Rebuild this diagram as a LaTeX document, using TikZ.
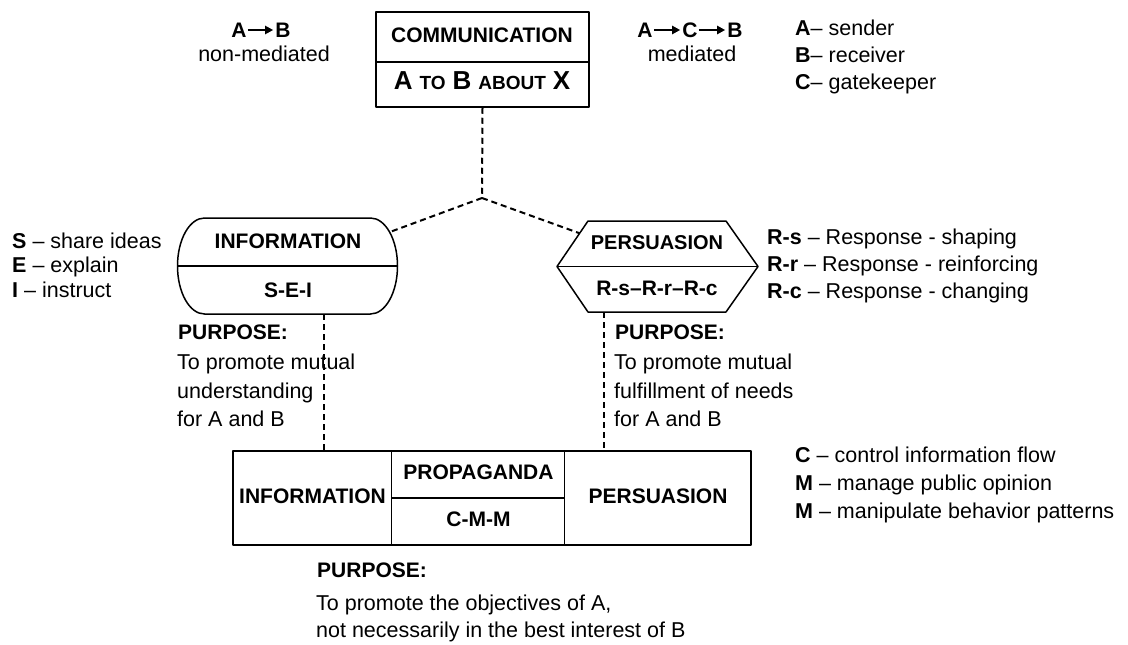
\documentclass[tikz,border=0pt]{standalone}
\usepackage{fontspec}
\setmainfont{Liberation Sans}
\usetikzlibrary{calc,arrows.meta}
\newcommand\capbig[1]{{\fontsize{26}{28}\selectfont #1}}
\newcommand\capsm[1]{{\fontsize{19}{20}\selectfont #1}}
\begin{document}
\begin{tikzpicture}[x=1pt,y=-1pt,
  every node/.style={font=\fontsize{21.5}{24}\selectfont, inner sep=0pt, text height=15pt, text depth=4.5pt},
  box/.style={draw, line width=1.5pt, line join=round},
  conn/.style={draw, line width=2pt, dash pattern=on 6pt off 4pt},
  flow/.style={draw, line width=2pt, -{Triangle[length=8pt,width=8pt]}, shorten <=1pt, shorten >=2pt},
  lbl/.style={font=\fontsize{21}{24}\selectfont\bfseries},
  txt/.style={anchor=west}]
\useasboundingbox (0,0) rectangle (1128,645);

% top box
\node[box, minimum width=213pt, minimum height=95pt] (comm) at (482.5,59.5) {};
\draw[box] ([yshift=-2.5pt]comm.west) -- ([yshift=-2.5pt]comm.east);
\node[lbl] (commT) at (482,37) {COMMUNICATION};
\node[lbl] (abx) at (482,84) {\capbig{A}\hspace{7pt}\capsm{TO}\hspace{7pt}\capbig{B}\hspace{7pt}\capsm{ABOUT}\hspace{7pt}\capbig{X}};

% top texts: A -> B
\node[lbl] (nA1) at (239,32) {A};
\node[lbl] (nB1) at (283,32) {B};
\draw[flow] ([yshift=2pt]nA1.east) -- ([yshift=2pt]nB1.west);
\node (nonmed) at (264,56) {non-mediated};
% A -> C -> B
\node[lbl] (nA2) at (645,32) {A};
\node[lbl] (nC2) at (690,32) {C};
\node[lbl] (nB2) at (735,32) {B};
\draw[flow] ([yshift=2pt]nA2.east) -- ([yshift=2pt]nC2.west);
\draw[flow] ([yshift=2pt]nC2.east) -- ([yshift=2pt]nB2.west);
\node (med) at (692,56) {mediated};
\node[txt] (lgA) at (795,30) {\textbf{A}– sender};
\node[txt] (lgB) at (795,57) {\textbf{B}– receiver};
\node[txt] (lgC) at (795,84) {\textbf{C}– gatekeeper};

% information capsule
\coordinate (infoRC) at (370.5,266);
\coordinate (infoLC) at (204.5,266);
\draw[box] (204.5,218) -- (370.5,218) arc[start angle=-90, end angle=90, x radius=27, y radius=48]
  -- (204.5,314) arc[start angle=90, end angle=270, x radius=27, y radius=48] -- cycle;
\coordinate (infoW) at (177.5,266);
\coordinate (infoE) at (397.5,266);
\draw[box] (infoW) -- (infoE);
\coordinate (infoNE) at ($(infoRC)+(19.1,-33.9)$);
\coordinate (infoS) at (324,314);
\node[lbl] (infoT) at (288,243) {INFORMATION};
\node[lbl] (sei) at (288,292) {S-E-I};

% persuasion hexagon
\coordinate (hTL) at (588,221);
\coordinate (hTR) at (726,221);
\coordinate (hR) at (758,266.5);
\coordinate (hBR) at (726,312);
\coordinate (hBL) at (588,312);
\coordinate (hL) at (557,266.5);
\draw[box] (hTL) -- (hTR) -- (hR) -- (hBR) -- (hBL) -- (hL) -- cycle;
\draw[box] (hL) -- (hR);
\coordinate (persNW) at ($(hTL)!0.27!(hL)$);
\coordinate (persS) at (604,312);
\node[lbl, font=\fontsize{20}{24}\selectfont\bfseries] (persT) at (657,244) {PERSUASION};
\node[lbl] (rsrc) at (657,290) {R-s–R-r–R-c};

% connectors
\coordinate (jn) at (482,198);
\draw[conn] (comm.south) -- (jn);
\draw[conn] (jn) -- (infoNE);
\draw[conn] (jn) -- (persNW);

% left legend
\node[txt] (lS) at (12,243) {\textbf{S} – share ideas};
\node[txt] (lE) at (12,267) {\textbf{E} – explain};
\node[txt] (lI) at (12,292) {\textbf{I} – instruct};

% right legend
\node[txt] (rS) at (767,239) {\textbf{R-s} – Response - shaping};
\node[txt] (rR) at (767,266) {\textbf{R-r} – Response - reinforcing};
\node[txt] (rC) at (767,293) {\textbf{R-c} – Response - changing};

% purposes
\node[txt, lbl] (p1) at (178,334) {PURPOSE:};
\node[txt] (p1a) at (177,364) {To promote mutual};
\node[txt] (p1b) at (177,393) {understanding};
\node[txt] (p1c) at (177,421) {for A and B};
\node[txt, lbl] (p2) at (615,334) {PURPOSE:};
\node[txt] (p2a) at (614,364) {To promote mutual};
\node[txt] (p2b) at (614,393) {fulfillment of needs};
\node[txt] (p2c) at (614,421) {for A and B};

% bottom box
\node[box, minimum width=518pt, minimum height=94pt] (bot) at (492,498) {};
\draw[box] ([xshift=159pt]bot.north west) -- ([xshift=159pt]bot.south west);
\draw[box] ([xshift=332pt]bot.north west) -- ([xshift=332pt]bot.south west);
\draw[box] ([xshift=159pt]bot.west) -- ([xshift=332pt]bot.west);
\node[lbl] (bInfo) at (312.5,498) {INFORMATION};
\node[lbl] (bProp) at (478.5,474) {PROPAGANDA};
\node[lbl] (bCmm) at (478.5,521) {C-M-M};
\node[lbl] (bPers) at (658,498) {PERSUASION};

% vertical dashed connectors
\draw[conn] (infoS) -- (infoS |- bot.north);
\draw[conn] (persS) -- (persS |- bot.north);

% C-M-M legend
\node[txt] (mC) at (795,457) {\textbf{C} – control information flow};
\node[txt] (mM1) at (795,485) {\textbf{M} – manage public opinion};
\node[txt] (mM2) at (795,513) {\textbf{M} – manipulate behavior patterns};

% bottom purpose
\node[txt, lbl] (p3) at (317,572) {PURPOSE:};
\node[txt] (p3a) at (316,605) {To promote the objectives of A,};
\node[txt] (p3b) at (316,632) {not necessarily in the best interest of B};
\end{tikzpicture}
\end{document}
